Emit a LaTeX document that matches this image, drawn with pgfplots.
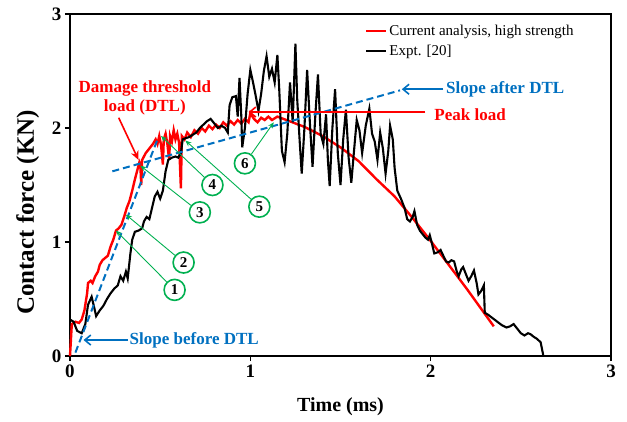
\documentclass[border=0pt]{standalone}
\usepackage{fontspec}
\setmainfont{Liberation Serif}
\usepackage{pgfplots}
\pgfplotsset{compat=1.18}
\usetikzlibrary{arrows.meta}
\definecolor{xlred}{RGB}{255,0,0}
\definecolor{xlblue}{RGB}{0,112,192}
\definecolor{xlgreen}{RGB}{0,176,80}
\newcommand\fs[1]{\fontsize{#1}{#1}\selectfont}
\tikzset{
  num/.style={circle, draw=xlgreen, line width=1.6pt, minimum size=21pt, inner sep=0pt, font=\fs{15}\bfseries},
  garrow/.style={xlgreen, line width=0.9pt, -{Stealth[length=6pt,width=5pt]}},
}

\begin{document}
\begin{tikzpicture}
\begin{axis}[
    scale only axis, width=541pt, height=342pt,
    xmin=0, xmax=3, ymin=0, ymax=3,
    xtick={0,1,2,3}, ytick={0,1,2,3},
    xtick pos=bottom, ytick pos=left, tick align=outside,
    major tick length=5pt,
    major tick style={line width=1.5pt, black},
    axis line style={line width=1.8pt},
    /pgf/number format/assume math mode=true,
    tick label style={font=\fs{19}\bfseries},
    xlabel={Time (ms)}, ylabel={Contact force (KN)},
    xlabel style={font=\fs{20}\bfseries, at={(rel axis cs:0.5,-0.149)}, anchor=center},
    ylabel style={font=\fs{25}\bfseries, at={(rel axis cs:-0.078,0.42)}, anchor=center},
    clip=false,
    legend style={at={(rel axis cs:0.545,0.975)}, anchor=north west, draw=none, fill=none,
        font=\fs{15}, row sep=4pt, inner sep=0pt,
        /tikz/every even column/.append style={column sep=1pt}},
    legend cell align=left,
    legend image code/.code={\draw[#1] (0pt,0pt) -- (20pt,0pt);},
]
% numerical model
\addplot[xlred, line width=2.4pt] coordinates {
(0,0)(0.01,0.28)(0.03,0.30)(0.05,0.29)(0.065,0.32)(0.08,0.40)(0.095,0.55)(0.10,0.64)
(0.115,0.66)(0.125,0.64)(0.14,0.70)(0.155,0.74)(0.165,0.80)(0.18,0.84)(0.195,0.86)
(0.21,0.88)(0.225,0.96)(0.24,1.02)(0.255,1.10)(0.27,1.12)(0.285,1.15)(0.30,1.22)
(0.315,1.30)(0.33,1.36)(0.345,1.45)(0.36,1.55)(0.375,1.64)(0.385,1.70)(0.39,1.68)
(0.395,1.50)(0.40,1.72)(0.42,1.78)(0.44,1.82)(0.46,1.86)(0.475,1.90)(0.485,1.86)
(0.495,1.93)(0.505,1.85)(0.515,1.68)(0.52,1.90)(0.53,1.95)(0.54,1.86)(0.55,1.72)
(0.555,1.93)(0.565,1.88)(0.575,1.98)(0.585,1.90)(0.595,1.95)(0.605,1.87)(0.615,1.47)
(0.62,1.93)(0.635,1.90)(0.65,1.96)(0.67,1.92)(0.69,1.98)(0.71,1.95)(0.73,2.00)
(0.75,1.97)(0.77,2.02)(0.79,1.99)(0.81,2.03)(0.83,2.00)(0.85,2.05)(0.87,2.02)
(0.89,2.06)(0.91,2.03)(0.93,2.07)(0.95,2.04)(0.97,2.08)(0.99,2.05)(1.00,2.13)
(1.02,2.08)(1.04,2.05)(1.06,2.09)(1.08,2.07)(1.10,2.10)(1.12,2.07)(1.15,2.10)
(1.20,2.07)(1.30,2.01)(1.40,1.93)(1.50,1.83)(1.60,1.71)(1.70,1.55)(1.80,1.40)
(1.90,1.21)(2.00,1.01)(2.10,0.80)(2.20,0.59)(2.35,0.26)};
\addlegendentry{Current analysis, high strength}
% experiment
\addplot[black, line width=2.1pt] coordinates {
(0,0.32)(0.02,0.30)(0.04,0.22)(0.065,0.20)(0.085,0.28)(0.10,0.45)(0.12,0.52)
(0.135,0.42)(0.145,0.35)(0.165,0.40)(0.185,0.44)(0.205,0.50)(0.225,0.55)(0.245,0.59)
(0.265,0.62)(0.28,0.70)(0.295,0.66)(0.31,0.74)(0.32,0.68)(0.335,0.90)(0.345,1.02)
(0.36,1.09)(0.38,1.10)(0.40,1.12)(0.41,1.18)(0.425,1.22)(0.44,1.20)(0.455,1.30)
(0.47,1.40)(0.485,1.44)(0.50,1.38)(0.515,1.45)(0.53,1.62)(0.545,1.72)(0.565,1.74)
(0.585,1.75)(0.60,1.74)(0.615,1.78)(0.625,1.90)(0.64,1.91)(0.66,1.92)(0.68,1.94)
(0.70,1.96)(0.72,2.00)(0.74,2.03)(0.76,2.06)(0.78,2.08)(0.80,2.04)(0.82,2.00)
(0.84,2.02)(0.86,2.00)(0.875,1.96)(0.885,2.20)(0.90,2.27)(0.92,2.28)(0.93,2.10)
(0.94,2.44)(0.95,2.10)(0.955,1.83)(0.97,2.00)(0.985,2.30)(1.00,2.51)(1.015,2.40)
(1.03,2.28)(1.045,2.15)(1.06,2.30)(1.075,2.50)(1.09,2.63)(1.105,2.45)(1.12,2.52)
(1.135,2.40)(1.15,2.64)(1.16,2.35)(1.175,1.80)(1.19,1.70)(1.205,1.95)(1.22,2.40)
(1.235,2.05)(1.25,2.74)(1.26,2.25)(1.275,1.85)(1.285,1.60)(1.30,2.00)(1.315,2.51)
(1.33,2.05)(1.345,1.66)(1.36,2.10)(1.375,2.47)(1.39,1.95)(1.405,1.86)(1.42,2.12)
(1.43,1.72)(1.44,1.49)(1.455,2.00)(1.47,2.34)(1.485,1.78)(1.50,1.50)(1.515,1.90)
(1.53,2.16)(1.545,1.74)(1.56,1.52)(1.575,1.80)(1.59,2.07)(1.605,1.98)(1.62,1.78)
(1.64,2.02)(1.66,2.17)(1.675,1.95)(1.69,1.88)(1.705,1.72)(1.72,1.96)(1.735,1.82)
(1.75,1.60)(1.765,1.80)(1.775,2.02)(1.79,1.90)(1.80,1.65)(1.815,1.45)(1.835,1.38)
(1.855,1.30)(1.87,1.20)(1.885,1.18)(1.90,1.22)(1.91,1.27)(1.925,1.15)(1.94,1.10)
(1.955,1.07)(1.97,1.04)(1.985,1.02)(1.995,1.06)(2.005,1.00)(2.02,0.90)(2.04,0.91)
(2.055,0.93)(2.07,0.88)(2.085,0.83)(2.10,0.82)(2.115,0.84)(2.13,0.83)(2.145,0.74)
(2.155,0.70)(2.17,0.76)(2.18,0.78)(2.195,0.72)(2.21,0.66)(2.225,0.70)(2.24,0.75)
(2.255,0.64)(2.265,0.54)(2.28,0.57)(2.295,0.62)(2.30,0.38)(2.32,0.36)(2.345,0.33)
(2.37,0.30)(2.395,0.27)(2.42,0.25)(2.44,0.26)(2.46,0.28)(2.48,0.24)(2.50,0.20)
(2.52,0.18)(2.54,0.20)(2.555,0.19)(2.57,0.17)(2.59,0.15)(2.61,0.12)(2.625,0.0)};
\addlegendentry{Expt. [20]}
% slopes before / after DTL
\addplot[xlblue, line width=2pt, dash pattern=on 7pt off 4pt, forget plot] coordinates {(0.03,0.03)(0.49,1.92)};
\addplot[xlblue, line width=2pt, dash pattern=on 7pt off 4pt, forget plot] coordinates {(0.235,1.62)(1.83,2.33)};

% annotations
\draw[xlblue, line width=1.6pt, -{Straight Barb[length=6pt,width=10pt]}] (axis cs:0.32,0.14) -- (axis cs:0.075,0.14);
\node[xlblue, anchor=west, inner sep=0pt, font=\fs{17}\bfseries] at (axis cs:0.33,0.14) {Slope before DTL};
\draw[xlblue, line width=1.6pt, -{Straight Barb[length=6pt,width=10pt]}] (axis cs:2.07,2.34) -- (axis cs:1.84,2.34);
\node[xlblue, anchor=west, inner sep=0pt, font=\fs{17}\bfseries] at (axis cs:2.085,2.34) {Slope after DTL};
\draw[xlred, line width=1.6pt, -{Straight Barb[length=6pt,width=10pt]}] (axis cs:1.97,2.14) -- (axis cs:0.99,2.14);
\node[xlred, anchor=west, inner sep=0pt, font=\fs{17}\bfseries] at (axis cs:2.02,2.12) {Peak load};
\node[xlred, align=center, inner sep=0pt, font=\fs{17}\bfseries] at (axis cs:0.415,2.265) {Damage threshold\\[2pt]load (DTL)};
\draw[xlred, line width=1.6pt, -{Stealth[length=9pt,width=8pt]}] (axis cs:0.27,2.09) -- (axis cs:0.38,1.72);

\node[num] (c1) at (axis cs:0.58,0.58) {1};
\draw[garrow] (c1) -- (axis cs:0.255,1.10);
\node[num] (c2) at (axis cs:0.63,0.82) {2};
\draw[garrow] (c2) -- (axis cs:0.31,1.24);
\node[num] (c3) at (axis cs:0.72,1.26) {3};
\draw[garrow] (c3) -- (axis cs:0.39,1.67);
\node[num] (c4) at (axis cs:0.79,1.50) {4};
\draw[garrow] (c4) -- (axis cs:0.505,1.93);
\node[num] (c5) at (axis cs:1.05,1.31) {5};
\draw[garrow] (c5) -- (axis cs:0.64,1.89);
\node[num] (c6) at (axis cs:0.97,1.69) {6};
\draw[garrow] (c6) -- (axis cs:1.13,2.05);
\end{axis}
\path ([shift={(-70pt,-65pt)}]current axis.south west) rectangle ([shift={(16pt,14pt)}]current axis.north east);
\end{tikzpicture}
\end{document}
